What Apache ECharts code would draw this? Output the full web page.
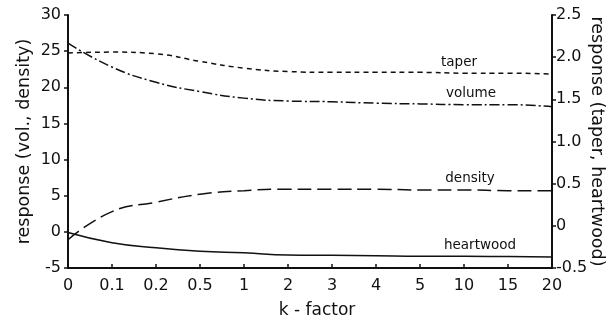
<!DOCTYPE html>
<html>
<head>
<meta charset="utf-8">
<script src="https://cdn.jsdelivr.net/npm/echarts@6/dist/echarts.min.js"></script>
<style>
  html, body { margin: 0; padding: 0; background: #fff; }
  #chart { width: 616px; height: 325px; }
</style>
</head>
<body>
<div id="chart"></div>
<script>
// k-factor levels (evenly spaced categories)
var kFactors = ['0', '0.1', '0.2', '0.5', '1', '2', '3', '4', '5', '10', '15', '20'];

// left axis: volume and density responses
var volume  = [26.1, 22.8, 20.7, 19.4, 18.5, 18.1, 18.0, 17.8, 17.7, 17.6, 17.6, 17.3];
var density = [-1.1, 2.8, 4.1, 5.2, 5.7, 5.9, 5.9, 5.9, 5.8, 5.8, 5.7, 5.7];

// right axis: taper and heartwood responses
var taper     = [2.05, 2.06, 2.04, 1.95, 1.87, 1.83, 1.82, 1.82, 1.82, 1.81, 1.81, 1.80];
var heartwood = [-0.08, -0.20, -0.26, -0.30, -0.32, -0.345, -0.35, -0.355, -0.36, -0.36, -0.365, -0.37];

// where the curve names sit along the x axis
var labelAt = '10';

var FONT = 'DejaVu Sans';
var INK = '#111';

function curve(name, data, yIdx, dash, shiftX) {
  return {
    name: name,
    type: 'line',
    yAxisIndex: yIdx,
    data: data,
    smooth: 0.5,
    symbol: 'none',
    lineStyle: { color: INK, width: 1.5, type: dash },
    markPoint: {
      symbol: 'circle',
      symbolSize: 2,
      itemStyle: { color: 'rgba(0,0,0,0)' },
      data: [{
        coord: [labelAt, data[kFactors.indexOf(labelAt)]],
        label: {
          show: true,
          formatter: name,
          position: 'top',
          distance: 3,
          offset: [shiftX, 0],
          color: INK,
          fontFamily: FONT,
          fontSize: 13.5
        }
      }]
    }
  };
}

var chart = echarts.init(document.getElementById('chart'), null, { renderer: 'canvas' });

chart.setOption({
  backgroundColor: '#fff',
  animation: false,
  grid: { left: 68, right: 64, top: 15, bottom: 57, outerBoundsMode: 'none', containLabel: false },
  xAxis: {
    type: 'category',
    data: kFactors,
    boundaryGap: false,
    name: 'k - factor',
    nameLocation: 'middle',
    nameGap: 34,
    nameMoveOverlap: false,
    nameTextStyle: { color: INK, fontFamily: FONT, fontSize: 17, padding: [0, 0, 0, 14] },
    axisLine: { onZero: false, lineStyle: { color: INK, width: 2 } },
    axisTick: { inside: true, length: 4, lineStyle: { color: INK, width: 1.5 } },
    axisLabel: { color: INK, fontFamily: FONT, fontSize: 16, margin: 10 },
    splitLine: { show: false }
  },
  yAxis: [{
    type: 'value',
    position: 'left',
    min: -5, max: 30, interval: 5,
    name: 'response (vol., density)',
    nameLocation: 'middle',
    nameGap: 35,
    nameMoveOverlap: false,
    nameTextStyle: { color: INK, fontFamily: FONT, fontSize: 17.5 },
    axisLine: { show: true, lineStyle: { color: INK, width: 2 } },
    axisTick: { show: true, length: 4, lineStyle: { color: INK, width: 1.5 } },
    axisLabel: { color: INK, fontFamily: FONT, fontSize: 16, margin: 7 },
    splitLine: { show: false }
  }, {
    type: 'value',
    position: 'right',
    min: -0.5, max: 2.5, interval: 0.5,
    name: 'response (taper, heartwood)',
    nameLocation: 'middle',
    nameRotate: -90,
    nameGap: 36,
    nameMoveOverlap: false,
    nameTextStyle: { color: INK, fontFamily: FONT, fontSize: 17.5 },
    axisLine: { show: true, lineStyle: { color: INK, width: 2 } },
    axisTick: { show: true, length: 4, lineStyle: { color: INK, width: 1.5 } },
    axisLabel: {
      color: INK, fontFamily: FONT, fontSize: 16, margin: 4,
      formatter: function (v) { return v === 0 ? '0' : v.toFixed(1); }
    },
    splitLine: { show: false }
  }],
  series: [
    curve('taper', taper, 1, [5, 4], -5),
    curve('volume', volume, 0, [10, 3, 2, 3], 7),
    curve('density', density, 0, [14, 6], 6),
    curve('heartwood', heartwood, 1, 'solid', 16)
  ]
});
</script>
</body>
</html>
